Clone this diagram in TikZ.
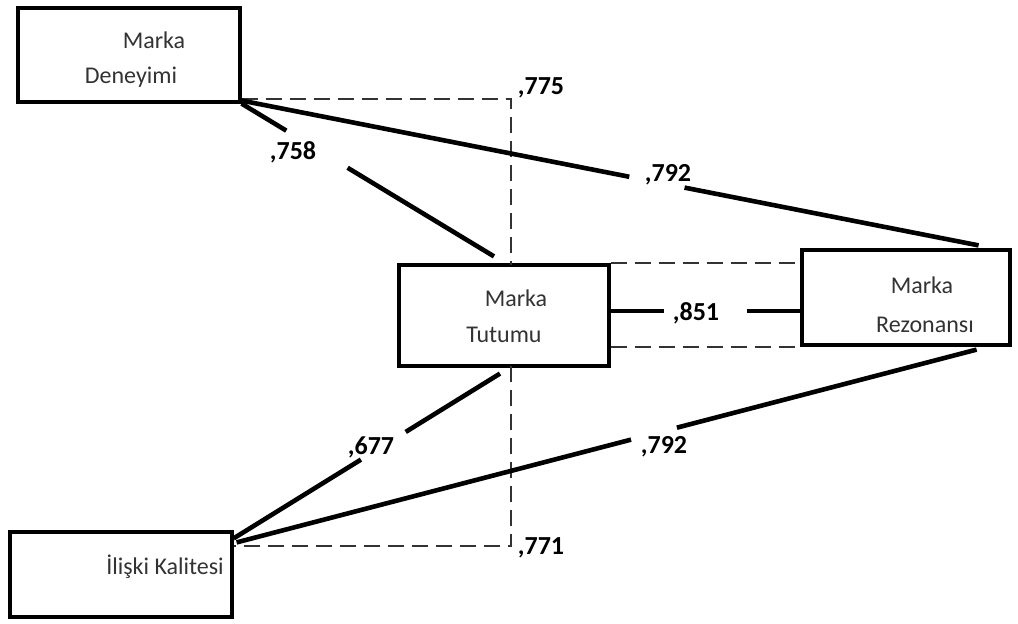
\documentclass[tikz,border=0pt]{standalone}
\usepackage{fontspec}
\setmainfont{Carlito}
\usepackage{tikz}
\usetikzlibrary{calc}

\begin{document}
\begin{tikzpicture}[x=1pt, y=1pt]
        \tikzstyle{every node} = [font=\fontsize{24}{28}\selectfont]
        \tikzstyle{kutu}  = [draw, line width=3.2pt, fill=white, inner sep=0pt]
        \tikzstyle{yazi}  = [inner sep=0pt, text=black!80]
        \tikzstyle{deger} = [inner sep=0pt, font=\fontsize{26}{30}\selectfont\bfseries]
        \tikzstyle{yol}   = [line width=4.6pt]
        \tikzstyle{kesik} = [line width=2pt, black!80, dash pattern=on 16pt off 8pt]

        \useasboundingbox (0,0) rectangle (1018,624);

        % kutular
        \node[kutu, minimum width=222pt, minimum height=94pt]  (dene)   at (129,569)   {};
        \node[kutu, minimum width=210pt, minimum height=101pt] (tutum)  at (504,308.5) {};
        \node[kutu, minimum width=208pt, minimum height=95pt]  (rezo)   at (906,326.5) {};
        \node[kutu, minimum width=222pt, minimum height=85pt]  (iliski) at (121,49.5)  {};

        % kesikli cizgiler
        \coordinate (k1) at ([shift={(0,5)}]dene.south east);
        \coordinate (k4) at ([shift={(0,-16)}]iliski.north east);
        \coordinate (k2) at (511,0 |- k1);
        \coordinate (k3) at (511,0 |- k4);
        \draw[kesik] (k1) -- (k2) -- ([yshift=-2pt]tutum.north -| k2);
        \draw[kesik] ([yshift=2pt]tutum.south -| k3) -- (k3) -- (k4);
        \draw[kesik] (tutum.north east) -- (tutum.north east -| rezo.west);
        \draw[kesik] (rezo.south west -| tutum.east) -- (rezo.south west);

        % yazilar
        \node[yazi] (t1) at (154,584) {Marka};
        \node[yazi] (t2) at (131,547) {Deneyimi};
        \node[yazi] (t3) at (516,326) {Marka};
        \node[yazi] (t4) at (504,289) {Tutumu};
        \node[yazi] (t5) at (922,339) {Marka};
        \node[yazi] (t6) at (925,299) {Rezonans\i};
        \node[yazi] (t7) at (165,57)  {\.Ili\c{s}ki Kalitesi};

        % yol uclari
        \coordinate (a1) at (dene.south east);
        \coordinate (b1) at ([shift={(-10,7)}]tutum.north);
        \coordinate (a2) at ([shift={(0,3)}]dene.south east);
        \coordinate (b2) at ([shift={(-33,3)}]rezo.north east);
        \coordinate (a3) at ([shift={(-4,-6)}]tutum.south);
        \coordinate (b3) at ([shift={(0,-8)}]iliski.north east);
        \coordinate (a4) at ([shift={(-35,-3)}]rezo.south east);
        \coordinate (b4) at ([shift={(3,-12)}]iliski.north east);
        \coordinate (a5) at ([yshift=4.5pt]tutum.east);
        \coordinate (b5) at (rezo.west |- a5);

        \foreach \a/\b/\s/\e in {a1/b1/0.177/0.420, a2/b2/0.526/0.601, a3/b3/0.354/0.522,
                                 a4/b4/0.405/0.467, a5/b5/0.280/0.718}
            \draw[yol] (\a) -- ($(\a)!\s!(\b)$) ($(\a)!\e!(\b)$) -- (\b);

        % katsayilar
        \node[deger] (d758) at (293,472) {,758};
        \node[deger] (d792) at (668,449) {,792};
        \node[deger] (d677) at (371,177) {,677};
        \node[deger] (d792b) at (664,177) {,792};
        \node[deger] (d851) at (696,311) {,851};
        \node[deger] (d775) at (541,536) {,775};
        \node[deger] (d771) at (541,76)  {,771};
\end{tikzpicture}
\end{document}
